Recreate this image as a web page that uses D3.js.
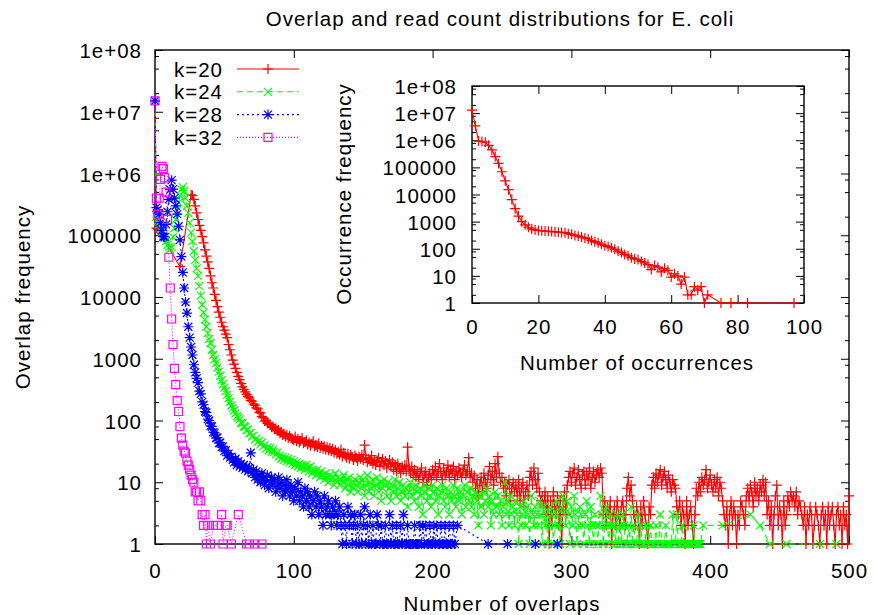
<!DOCTYPE html>
<html>
<head>
<meta charset="utf-8">
<script src="https://cdn.jsdelivr.net/npm/d3@7"></script>
<style>
  body { margin: 0; background: #fff; }
  text { font-family: "Liberation Sans", Arial, sans-serif; font-size: 20.5px; letter-spacing: 1px; fill: #000; }
</style>
</head>
<body>
<svg id="chart" width="874" height="615"></svg>
<script>
// ---- data: overlap frequency per overlap length (index = overlap) ----
var k20Head = [[0, 1.5e7], [1, 1.3e5], [2, 1.25e5], [18, 3.1e4], [26, 4.5e5]];
var k20Start = 27;
var k20Vals = [
  4.4e5, 3.8e5, 3e5, 2.3e5, 1.8e5, 1.45e5, 1.2e5, 9.5e4, 7.5e4, 5.8e4, 4.6e4,
  3.7e4, 2.9e4, 2.2e4, 1.7e4, 1.4e4, 1.1e4, 8800, 7000, 5700, 4700, 3900, 3300, 2900, 2500, 2200,
  1700, 1400, 1150, 950, 820, 700, 600, 520, 460, 400, 350, 320, 290, 265, 245,
  232, 210, 205, 185, 178, 160, 154, 136, 133, 116, 110, 98, 99, 90, 90,
  86, 78, 80, 72, 75, 68, 70, 62, 65, 58, 61, 55, 59, 52, 56,
  52, 50,
  48, 55, 46, 50, 44, 47, 52, 43, 45, 48,
  41, 44, 39, 42, 46, 38, 40, 37, 43, 36,
  39, 35, 38, 34, 37, 33, 36, 32, 35, 30,
  33, 29, 31, 28, 34, 26, 30, 27, 25, 29,
  24, 28, 26, 23, 27, 25, 22, 26, 24, 28,
  23, 40, 25, 21, 24, 22, 27, 20, 23, 19,
  22, 25, 18, 21, 24, 19, 22, 17, 20, 23,
  18, 21, 16, 19, 15, 20, 17, 14, 18, 16,
  19, 15, 37, 17, 14, 18, 13, 16, 12, 15,
  11, 14, 17, 10, 13, 15, 9, 12, 14, 11,
  16, 13, 18, 12, 15, 20, 14, 11, 17, 13,
  15, 19, 12, 16, 14, 18, 11, 15, 13, 17,
  14, 12, 16, 19, 13, 15, 25, 12, 14, 10,
  13, 8, 11, 6, 9, 12, 7, 14, 10, 8,
  13, 18, 11, 15, 9, 20, 12, 26, 14, 10,
  12, 8, 10, 6, 9, 11, 5, 8, 10, 7,
  9, 6, 11, 5, 8, 10, 4, 7, 9, 6,
  12, 15, 9, 17, 11, 8, 14, 7, 5, 6,
  4, 7, 3, 6, 1, 5, 2, 7, 4, 3,
  6, 2, 5, 1, 4, 7, 3, 9, 12, 15,
  10, 14, 17, 9, 12, 16, 11, 8, 13, 15,
  9, 14, 11, 17, 8, 12, 15, 10, 13, 16,
  12, 17, 14, 3, 5, 2, 4, 3, 5, 1,
  3, 4, 2, 5, 3, 2, 4, 5, 3, 2,
  8, 12, 6, 9, 5, 3, 2, 4, 3, 1,
  4, 2, 5, 3, 2, 1, 4, 3, 9, 12,
  8, 14, 10, 13, 16, 9, 12, 15, 11, 8,
  13, 10, 7, 11, 9, 8, 4, 3, 5, 2,
  4, 3, 1, 5, 2, 3, 4, 2, 1, 3,
  8, 6, 10, 7, 12, 9, 11, 16, 8, 10,
  13, 9, 7, 11, 8, 12, 6, 10, 8, 5,
  3, 2, 4, 1, 3, 5, 2, 4, 3, 1,
  3, 2, 5, 4, 3, 2, 6, 8, 5, 9,
  7, 4, 10, 6, 8, 5, 9, 7, 11, 6,
  10, 3, 5, 2, 4, 1, 3, 6, 9, 2,
  4, 3, 1, 5, 2, 3, 6, 4, 7, 5,
  6, 4, 7, 3, 5, 4, 3, 2, 4, 1,
  3, 2, 4, 3, 1, 2, 4, 3, 2, 1,
  3, 4, 2, 3, 1, 4, 2, 3, 4, 2,
  1, 3, 4, 2, 3, 1, 4, 2, 3, 1,
  6
];

var k24Head = [[0, 1.5e7]];
var k24Start = 1;
var k24Vals = [
  2e5, 1.7e5, 1.5e5, 1.3e5, 1.15e5, 1e5, 9e4, 8e4, 7e4, 6.5e4, 6e4, 6.5e4, 9.4e4, 1.3e5, 1.8e5, 2.5e5, 3.4e5, 4.4e5, 5.5e5, 6e5,
  5.2e5, 4e5, 3e5, 2.3e5, 1.6e5, 1.1e5, 8e4, 5.5e4, 4e4, 2.9e4, 2.2e4, 1.5e4, 1.05e4, 7500, 5600, 4300, 3300, 2600, 2100, 1800,
  1400, 1150, 980, 850, 720, 620, 530, 450, 390, 340, 300, 260, 230, 200, 175, 160, 145, 130, 118, 112,
  104, 92, 90, 80, 79, 70, 71, 62, 63, 55, 57, 49, 51, 45, 47, 41, 44, 38, 40, 35, 37, 33, 36, 31, 34,
  31, 28, 30, 26, 27, 24, 26, 23, 25, 22,
  24, 21, 23, 20, 22, 19, 21, 18, 20, 17,
  19, 18, 16, 19, 17, 15, 18, 14, 16, 15,
  13, 16, 14, 12, 15, 13, 11, 14, 12, 10,
  13, 11, 12, 9, 14, 10, 12, 9, 11, 10,
  13, 8, 11, 9, 12, 7, 10, 8, 11, 9,
  7, 10, 12, 8, 11, 6, 9, 13, 7, 10,
  8, 11, 6, 9, 12, 7, 10, 5, 8, 11,
  9, 6, 10, 8, 5, 9, 7, 11, 6, 8,
  10, 5, 7, 9, 6, 8, 4, 7, 10, 6,
  8, 5, 9, 7, 4, 8, 6, 3, 7, 9,
  5, 8, 6, 4, 9, 7, 5, 8, 3, 6,
  7, 9, 5, 4, 8, 6, 3, 7, 5, 9,
  6, 4, 8, 5, 7, 3, 6, 9, 4, 7,
  5, 8, 4, 6, 3, 7, 5, 2, 6, 4,
  7, 3, 5, 8, 4, 6, 2, 5, 3, 7,
  4, 6, 3, 5, 2, 4, 10, 3, 5, 2,
  6, 3, 4, 2, 5, 3, 1, 4, 2, 3,
  5, 2, 4, 3, 1, 6, 3, 2, 4, 3,
  2, 5, 3, 1, 4, 2, 3, 1, 2, 4,
  3, 1, 2, 5, 3, 2, 1, 4, 6, 3,
  2, 5, 3, 1, 4, 2, 6, 3, 1, 2,
  4, 3, 2, 1, 3, 5, 2, 1, 4, 2,
  1, 3, 2, 1, 2, 6, 3, 1, 2, 4,
  2, 1, 3, 2, 1, 2, 1, 3, 1, 2,
  1, 3, 2, 1, 1, 2, 1, 4, 1, 2,
  1, 1, 3, 1, 2, 1, 1, 1, 2, 1,
  1, 2, 1, 1, 1, 2, 1, 1, 3, 1,
  1, 1, 2, 1, 1, 1, 1, 3, 1, 1,
  3, 1, 1, 1, 2, 1, 1, 1, 1, 1,
  1, 1, 2, 1, 1, 1, 1, 1
];
var k24Tail = [[395, 2], [409, 2], [429, 3], [436, 2], [443, 1], [455, 1], [479, 1], [491, 1]];

var k28Head = [[0, 1.5e7]];
var k28Start = 1;
var k28Vals = [
  2.8e5, 2.6e5, 2.2e5, 1.6e5, 1.2e5, 9.5e4, 9.4e4, 1.5e5, 2.4e5, 3.8e5, 5.5e5, 7.8e5,
  5.6e5, 4e5, 3e5, 2.2e5, 1.4e5, 8.4e4, 4.5e4, 2.5e4, 1.4e4, 8300, 5500, 3300, 2200, 1550, 1150, 800, 600,
  480, 410, 300, 270, 200, 180, 140, 135, 105, 100, 82, 80, 65, 63, 52, 53, 43, 44, 37, 38, 32, 33, 27, 29, 25, 26,
  23, 21, 24, 19, 22, 18, 20, 17, 19, 16,
  18, 15, 17, 30, 14, 16, 12, 15, 11, 13,
  10, 14, 12, 9, 11, 13, 8, 10, 12, 9,
  11, 7, 9, 12, 8, 10, 6, 9, 7, 11,
  8, 6, 9, 7, 5, 8, 6, 10, 5, 7,
  6, 4, 8, 5, 7, 4, 6, 3, 5, 7,
  4, 6, 3, 5, 4, 2, 6, 3, 4, 5,
  3, 2, 4, 3, 5, 2, 3, 4, 2, 1,
  3, 2, 1, 4, 2, 3, 1, 2, 3, 1,
  2, 1, 3, 1, 2, 4, 1, 2, 1, 3,
  1, 2, 1, 1, 3, 2, 1, 2, 1, 1,
  2, 1, 1, 3, 1, 2, 1, 1, 2, 1,
  1, 2, 1, 3, 1, 1, 2, 1, 1, 1,
  1, 2, 1, 1, 1, 2, 1, 2, 1, 2,
  1, 1, 2, 1, 1, 2, 1, 2, 1, 1,
  2, 1, 1, 2, 1, 1, 2, 1, 1, 2
];
var k28Tail = [[216, 1], [218, 2], [240, 1], [254, 1], [274, 1], [290, 1]];

var k32Pts = [[0, 1.5e7], [1, 4e5], [2, 2.2e5], [3, 4e5], [4, 8e5], [5, 1.3e6], [6, 1.2e6], [7, 8.5e5],
  [8, 5e5], [9, 1.8e5], [10, 4.4e4], [11, 1.4e4], [12, 4400], [13, 1700], [14, 700], [15, 380], [16, 210],
  [17, 140], [18, 80], [19, 52], [20, 40], [21, 32], [22, 30], [23, 22], [24, 19], [25, 16], [26, 13],
  [27, 11], [28, 10], [29, 7], [30, 7], [31, 5], [32, 7], [33, 5], [34, 3], [35, 2], [36, 3], [37, 1],
  [38, 2], [40, 1], [42, 2], [45, 2], [48, 3], [49, 1], [51, 2], [52, 2], [55, 1], [60, 3], [66, 1],
  [68, 1], [72, 1], [77, 1]];

// inset: read count distribution (k=20)
var occX = [0, 1, 2, 3, 4, 5, 6, 7, 8, 9, 10, 11, 12, 13, 14, 15, 16, 17, 18, 19, 20, 21, 22, 23, 24, 25,
  26, 27, 28, 29, 30, 31, 32, 33, 34, 35, 36, 37, 38, 39, 40, 41, 42, 43, 44, 45, 46, 47, 48, 49, 50,
  51, 52, 53, 54, 55, 56, 57, 58, 59, 60, 61, 62, 63, 64, 65, 66, 67, 68, 69, 70, 71, 75, 78, 83, 97];
var occY = [1.3e7, 3.4e6, 9.3e5, 9e5, 8.5e5, 6.5e5, 4.4e5, 2.5e5, 1.4e5, 6.9e4, 3.2e4, 1.5e4, 6500, 3000,
  1600, 1000, 760, 620, 540, 500, 470, 460, 450, 440, 430, 420, 410, 400, 390, 360, 340, 310, 290, 270,
  250, 230, 200, 180, 165, 145, 130, 120, 108, 95, 82, 72, 62, 55, 47, 42, 40, 34, 30, 26, 17, 24, 21,
  14, 19, 16, 9, 12, 10, 5, 9, 2, 2, 4, 3, 4, 1, 2, 1, 1, 1, 1];

var seriesNames = ["k=20", "k=24", "k=28", "k=32"];
var seriesColors = ["#ff0000", "#00ff00", "#0000ff", "#ff00ff"];
var seriesDash = [null, "6,4", "2,3", "1,2"];
var seriesMarks = ["plus", "cross", "star", "square"];

var yTicks = [1, 10, 100, 1000, 10000, 100000, 1e6, 1e7, 1e8];
var xTicksMain = [0, 100, 200, 300, 400, 500];
var xTicksInset = [0, 20, 40, 60, 80, 100];

function build(head, start, vals, tail) {
  var pts = head.slice();
  vals.forEach(function(v, i){ if (v) pts.push([start + i, v]); });
  return pts.concat(tail || []);
}

var series = [
  build(k20Head, k20Start, k20Vals),
  build(k24Head, k24Start, k24Vals, k24Tail),
  build(k28Head, k28Start, k28Vals, k28Tail),
  k32Pts
];
var occPts = occX.map(function(x, i){ return [x, occY[i]]; });

var svg = d3.select("#chart");

function fmtY(v) {
  var e = Math.round(Math.log10(v));
  return v >= 1e6 ? "1e+" + String(e).padStart(2, "0") : String(v);
}

var minors = [];
for (var e = 0; e < 8; e++) [2, 5, 8].forEach(function(m){ minors.push(m * Math.pow(10, e)); });

function frame(box, x, y, xTicks, padY, padX) {
  var g = svg.append("g");
  g.append("g").attr("transform", "translate(" + box.left + ",0)")
    .call(d3.axisLeft(y).tickValues(yTicks).tickSize(-8).tickSizeOuter(0).tickPadding(padY).tickFormat(fmtY));
  g.append("g").attr("transform", "translate(" + box.left + ",0)")
    .call(d3.axisLeft(y).tickValues(minors).tickSize(-4).tickSizeOuter(0).tickFormat(""));
  g.append("g").attr("transform", "translate(" + box.right + ",0)")
    .call(d3.axisRight(y).tickValues(yTicks).tickSize(-8).tickSizeOuter(0).tickFormat(""));
  g.append("g").attr("transform", "translate(" + box.right + ",0)")
    .call(d3.axisRight(y).tickValues(minors).tickSize(-4).tickSizeOuter(0).tickFormat(""));
  g.append("g").attr("transform", "translate(0," + box.bottom + ")")
    .call(d3.axisBottom(x).tickValues(xTicks).tickSize(-8).tickSizeOuter(0).tickPadding(padX).tickFormat(d3.format("d")));
  g.append("g").attr("transform", "translate(0," + box.top + ")")
    .call(d3.axisTop(x).tickValues(xTicks).tickSize(-8).tickSizeOuter(0).tickFormat(""));
  g.selectAll(".domain").remove();
  g.selectAll("line").attr("stroke", "#000").attr("stroke-width", 1);
  g.selectAll(".tick text").attr("dy", null).attr("dominant-baseline", "central");
  g.append("rect").attr("x", box.left).attr("y", box.top)
    .attr("width", box.right - box.left).attr("height", box.bottom - box.top)
    .attr("fill", "none").attr("stroke", "#000").attr("stroke-width", 1.4);
  g.selectAll("g").attr("font-family", null).attr("font-size", null);
}

// gnuplot-like point symbols
function markPath(type, cx, cy) {
  var p = "M" + (cx - 5) + "," + cy + "h10M" + cx + "," + (cy - 5) + "v10";
  var c = "M" + (cx - 4) + "," + (cy - 4) + "l8,8M" + (cx - 4) + "," + (cy + 4) + "l8,-8";
  if (type === "plus") return p;
  if (type === "cross") return c;
  if (type === "star") return "M" + (cx - 5) + "," + cy + "h10M" + cx + "," + (cy - 5) + "v10" + c;
  return "M" + (cx - 4) + "," + (cy - 4) + "h8v8h-8z";
}

function drawSeries(pts, x, y, i) {
  var g = svg.append("g").attr("stroke", seriesColors[i]).attr("fill", "none");
  g.append("path")
    .attr("d", d3.line().x(function(d){ return x(d[0]); }).y(function(d){ return y(d[1]); })(pts))
    .attr("stroke-width", 1.1)
    .attr("stroke-dasharray", seriesDash[i]);
  g.append("path")
    .attr("d", pts.map(function(d){ return markPath(seriesMarks[i], x(d[0]), y(d[1])); }).join(""))
    .attr("stroke-width", 1.2);
}

// ---- main plot ----
var mainBox = {left: 155, right: 849, top: 50, bottom: 544};
var x = d3.scaleLinear().domain([0, 500]).range([mainBox.left, mainBox.right]);
var y = d3.scaleLog().domain([1, 1e8]).range([mainBox.bottom, mainBox.top]);
frame(mainBox, x, y, xTicksMain, 13, 26);
series.forEach(function(pts, i){ drawSeries(pts, x, y, i); });

// legend
var leg = svg.append("g");
seriesNames.forEach(function(name, i){
  var ly = 69 + i * 22.8;
  leg.append("text").attr("x", 223).attr("y", ly).attr("text-anchor", "end")
    .attr("dominant-baseline", "central").text(name);
  leg.append("line").attr("x1", 237).attr("x2", 299).attr("y1", ly).attr("y2", ly)
    .attr("stroke", seriesColors[i]).attr("stroke-width", 1.1).attr("stroke-dasharray", seriesDash[i]);
  leg.append("path").attr("d", markPath(seriesMarks[i], 268, ly))
    .attr("stroke", seriesColors[i]).attr("stroke-width", 1.2).attr("fill", "none");
});

svg.append("text").attr("x", 500).attr("y", 18).attr("text-anchor", "middle")
  .attr("dominant-baseline", "central").text("Overlap and read count distributions for E. coli");
svg.append("text").attr("x", 502).attr("y", 603).attr("text-anchor", "middle")
  .attr("dominant-baseline", "central").text("Number of overlaps");
svg.append("text").attr("transform", "translate(22,297) rotate(-90)").attr("text-anchor", "middle")
  .attr("dominant-baseline", "central").text("Overlap frequency");

// ---- inset ----
var inBox = {left: 472, right: 804, top: 86, bottom: 303};
var xi = d3.scaleLinear().domain([0, 100]).range([inBox.left, inBox.right]);
var yi = d3.scaleLog().domain([1, 1e8]).range([inBox.bottom, inBox.top]);
frame(inBox, xi, yi, xTicksInset, 15, 23);
drawSeries(occPts, xi, yi, 0);

svg.append("text").attr("x", 637).attr("y", 362).attr("text-anchor", "middle")
  .attr("dominant-baseline", "central").text("Number of occurrences");
svg.append("text").attr("transform", "translate(343,194) rotate(-90)").attr("text-anchor", "middle")
  .attr("dominant-baseline", "central").text("Occurrence frequency");
</script>
</body>
</html>
